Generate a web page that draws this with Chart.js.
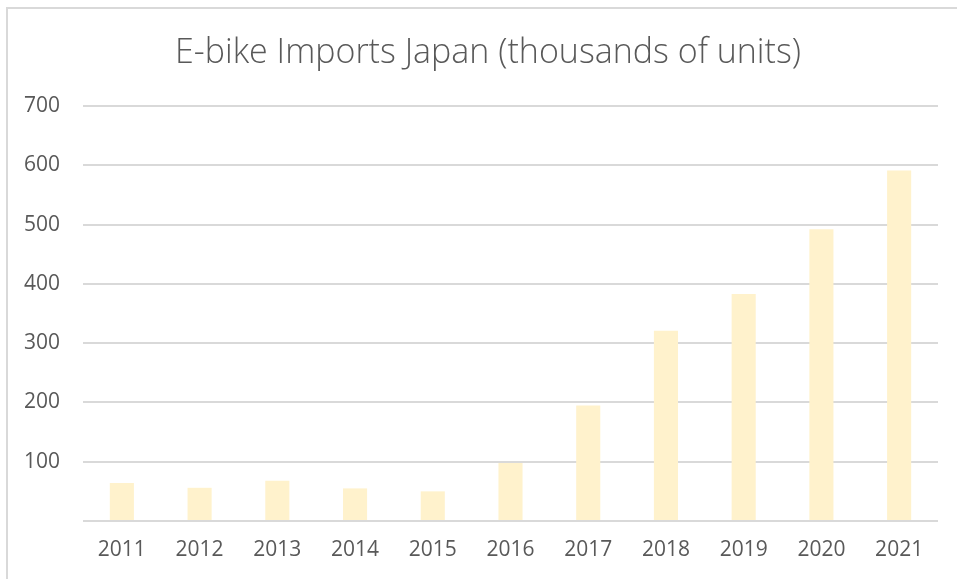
<!DOCTYPE html>
<html>
<head>
<meta charset="utf-8">
<script src="https://cdn.jsdelivr.net/npm/chart.js@4.4.1/dist/chart.umd.min.js"></script>
<style>
  html, body { margin: 0; padding: 0; background: #ffffff; }
  #wrap { position: relative; width: 957px; height: 579px; }
</style>
</head>
<body>
<div id="wrap"><canvas id="c" width="957" height="579"></canvas></div>
<script>
const years = ["2011", "2012", "2013", "2014", "2015", "2016", "2017", "2018", "2019", "2020", "2021"];
const imports = [64, 56, 68, 55, 50, 98, 195, 321, 383, 492, 591];
const yTicks = [0, 100, 200, 300, 400, 500, 600, 700];
const chartTitle = "E-bike Imports Japan (thousands of units)";

const frame = {
  id: 'frame',
  beforeDraw(chart) {
    const ctx = chart.ctx;
    ctx.save();
    ctx.fillStyle = '#ffffff';
    ctx.fillRect(0, 0, chart.width, chart.height);
    ctx.fillStyle = '#d9d9d9';
    ctx.fillRect(6, 7, 2, chart.height - 7);
    ctx.fillRect(6, 7, chart.width - 6, 2);
    ctx.restore();
  },
  afterDraw(chart) {
    const ctx = chart.ctx;
    ctx.save();
    ctx.fillStyle = '#595959';
    ctx.font = '300 34px "Open Sans"';
    ctx.textAlign = 'center';
    ctx.textBaseline = 'middle';
    ctx.fillText(chartTitle, 488, 53);
    ctx.restore();
  }
};

new Chart(document.getElementById('c'), {
  type: 'bar',
  data: {
    labels: years,
    datasets: [{
      data: imports,
      backgroundColor: '#FFF2CC',
      borderWidth: 0,
      categoryPercentage: 0.31,
      barPercentage: 1.0
    }]
  },
  options: {
    responsive: false,
    animation: false,
    devicePixelRatio: 1,
    layout: { padding: { left: 0, right: 19, top: 106, bottom: 0 } },
    plugins: {
      legend: { display: false },
      tooltip: { enabled: false },
      title: { display: false }
    },
    scales: {
      x: {
        grid: { display: false, drawTicks: false },
        border: { display: false },
        ticks: {
          color: '#595959',
          font: { family: 'Open Sans', size: 21, lineHeight: 1.0 },
          padding: 18.5,
          maxRotation: 0
        }
      },
      y: {
        min: 0,
        max: 700,
        afterBuildTicks(scale) { scale.ticks = yTicks.map(v => ({ value: v })); },
        afterFit(scale) { scale.width = 83; },
        grid: { color: '#d9d9d9', lineWidth: 2, drawTicks: false },
        border: { display: false },
        ticks: {
          color: '#595959',
          font: { family: 'Open Sans', size: 21 },
          padding: 23,
          callback: (v) => (v === 0 ? '' : String(v))
        }
      }
    }
  },
  plugins: [frame]
});
</script>
</body>
</html>
